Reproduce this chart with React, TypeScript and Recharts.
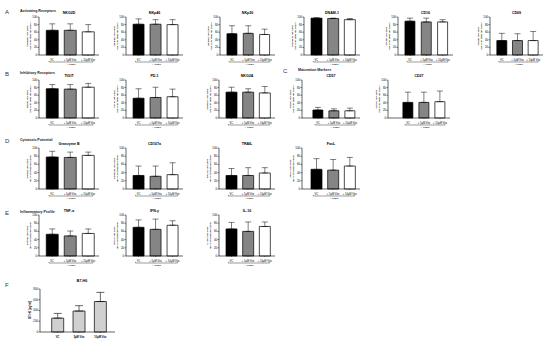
import { BarChart, Bar, XAxis, YAxis, ErrorBar, Cell } from 'recharts';

// treatment groups (x categories)
const GROUPS = ['VC', '+ 5µM Vito', '+ 10µM Vito'];
const F_GROUPS = ['VC', '5µM Vito', '10µM Vito'];
const PCT_TICKS = [0, 20, 40, 60, 80, 100];
const PG_TICKS = [0, 200, 400, 600, 800];

// A - activating receptors (mean, SD; % of total NK cells)
const NKG2D = [65, 65, 61];
const NKG2D_SD = [17, 17, 19];
const NKP46 = [81, 81, 80];
const NKP46_SD = [14, 12, 13];
const NKP30 = [56, 57, 54];
const NKP30_SD = [21, 20, 14];
const DNAM1 = [97, 96, 93];
const DNAM1_SD = [1, 1, 3];
const CD16 = [89, 87, 87];
const CD16_SD = [8, 10, 6];
const CD69 = [38, 38, 38];
const CD69_SD = [19, 18, 24];

// B - inhibitory receptors
const TIGIT = [77, 76, 81];
const TIGIT_SD = [11, 12, 10];
const PD1 = [52, 54, 56];
const PD1_SD = [25, 27, 20];
const NKG2A = [68, 68, 66];
const NKG2A_SD = [13, 9, 17];

// C - maturation markers
const CD57 = [21, 19, 19];
const CD57_SD = [7, 5, 7];
const CD27 = [41, 41, 43];
const CD27_SD = [27, 27, 28];

// D - cytotoxic potential
const GZMB = [78, 77, 82];
const GZMB_SD = [14, 13, 8];
const CD107A = [33, 31, 35];
const CD107A_SD = [23, 25, 29];
const TRAIL = [33, 33, 39];
const TRAIL_SD = [17, 19, 13];
const FASL = [48, 46, 56];
const FASL_SD = [26, 26, 21];

// E - inflammatory profile
const TNFA = [53, 49, 55];
const TNFA_SD = [13, 12, 11];
const IFNG = [70, 65, 75];
const IFNG_SD = [18, 25, 11];
const IL10 = [66, 60, 72];
const IL10_SD = [16, 23, 11];

// F - soluble B7-H6 (pg/ml)
const B7H6 = [258, 390, 567];
const B7H6_SD = [88, 100, 170];

const FONT = 'Liberation Sans, Arial, Helvetica, sans-serif';
const FILLS = ['#000000', '#858585', '#ffffff'];

type Panel = {
  title: string;
  marker: string;
  mean: number[];
  sd: number[];
  x: number;
  y: number;
  w: number;
  h: number;
  pad?: number;
};

const ROW_A = 17;
const ROW_B = 80;
const ROW_D = 148;
const ROW_E = 215;
const H_AB = 38;
const H_DE = 41;

const PANELS: Panel[] = [
  { title: 'NKG2D', marker: 'NKG2D', mean: NKG2D, sd: NKG2D_SD, x: 39, y: ROW_A, w: 60, h: H_AB },
  { title: 'NKp46', marker: 'NKp46', mean: NKP46, sd: NKP46_SD, x: 126, y: ROW_A, w: 57, h: H_AB },
  { title: 'NKp30', marker: 'NKp30', mean: NKP30, sd: NKP30_SD, x: 220, y: ROW_A, w: 55, h: H_AB },
  { title: 'DNAM-1', marker: 'DNAM-1', mean: DNAM1, sd: DNAM1_SD, x: 304, y: ROW_A, w: 56, h: H_AB },
  { title: 'CD16', marker: 'CD16', mean: CD16, sd: CD16_SD, x: 398, y: ROW_A, w: 55, h: H_AB },
  { title: 'CD69', marker: 'CD69', mean: CD69, sd: CD69_SD, x: 490, y: ROW_A, w: 53, h: H_AB },
  { title: 'TIGIT', marker: 'TIGIT', mean: TIGIT, sd: TIGIT_SD, x: 39, y: ROW_B, w: 60, h: H_AB },
  { title: 'PD-1', marker: 'PD-1', mean: PD1, sd: PD1_SD, x: 126, y: ROW_B, w: 57, h: H_AB },
  { title: 'NKG2A', marker: 'NKG2A', mean: NKG2A, sd: NKG2A_SD, x: 219, y: ROW_B, w: 56, h: H_AB },
  { title: 'CD57', marker: 'CD57', mean: CD57, sd: CD57_SD, x: 302, y: ROW_B, w: 58, h: H_AB, pad: 8 },
  { title: 'CD27', marker: 'CD27', mean: CD27, sd: CD27_SD, x: 388, y: ROW_B, w: 62, h: H_AB, pad: 12 },
  { title: 'Granzyme B', marker: 'GzmB', mean: GZMB, sd: GZMB_SD, x: 39, y: ROW_D, w: 60, h: H_DE },
  { title: 'CD107a', marker: 'CD107a', mean: CD107A, sd: CD107A_SD, x: 126, y: ROW_D, w: 57, h: H_DE },
  { title: 'TRAIL', marker: 'TRAIL', mean: TRAIL, sd: TRAIL_SD, x: 219, y: ROW_D, w: 56, h: H_DE },
  { title: 'FasL', marker: 'FasL', mean: FASL, sd: FASL_SD, x: 302, y: ROW_D, w: 58, h: H_DE, pad: 6 },
  { title: 'TNF-α', marker: 'TNF-α', mean: TNFA, sd: TNFA_SD, x: 39, y: ROW_E, w: 60, h: H_DE },
  { title: 'IFN-γ', marker: 'IFN-γ', mean: IFNG, sd: IFNG_SD, x: 126, y: ROW_E, w: 57, h: H_DE },
  { title: 'IL-10', marker: 'IL-10', mean: IL10, sd: IL10_SD, x: 219, y: ROW_E, w: 56, h: H_DE },
];

const SECTIONS = [
  { letter: 'A', text: 'Activating Receptors', x: 5, y: 12 },
  { letter: 'B', text: 'Inhibitory Receptors', x: 5, y: 74 },
  { letter: 'C', text: 'Maturation Markers', x: 283, y: 71 },
  { letter: 'D', text: 'Cytotoxic Potential', x: 5, y: 141 },
  { letter: 'E', text: 'Inflammatory Profile', x: 5, y: 213 },
  { letter: 'F', text: '', x: 5, y: 285 },
];

const AXIS_W = 10;
const XAXIS_H = 6;
const TOP_M = 2;

function tickStyle() {
  return { fontSize: 2.8, fill: '#000', fontFamily: FONT };
}

// single-line category label (recharts would wrap these tiny labels)
function GroupTick(props: any) {
  const { x, y, payload, bold } = props;
  return (
    <text x={x} y={y + 2.8} textAnchor="middle" fontSize={2.6} fontWeight={bold ? 700 : 400} fill="#000" fontFamily={FONT}>
      {payload.value}
    </text>
  );
}

function MiniChart({ p }: { p: Panel }) {
  const data = GROUPS.map((g, i) => ({ group: g, mean: p.mean[i], err: [0, p.sd[i]] }));
  const pad = p.pad ?? 4;
  const width = AXIS_W + p.w + 2;
  const height = TOP_M + p.h + XAXIS_H + 1;
  return (
    <div style={{ position: 'absolute', left: p.x - AXIS_W, top: p.y - TOP_M }}>
      <BarChart width={width} height={height} data={data} margin={{ top: TOP_M, right: 2, bottom: 1, left: 0 }} barCategoryGap="18%">
        <XAxis
          dataKey="group"
          interval={0}
          height={XAXIS_H}
          padding={{ left: pad, right: 2 }}
          tick={<GroupTick />}
          tickSize={1}
          axisLine={{ stroke: '#000', strokeWidth: 0.6 }}
          tickLine={{ stroke: '#000', strokeWidth: 0.4 }}
        />
        <YAxis
          width={AXIS_W}
          domain={[0, 100]}
          ticks={PCT_TICKS}
          interval={0}
          tick={tickStyle()}
          tickSize={1.5}
          tickMargin={0.5}
          axisLine={{ stroke: '#000', strokeWidth: 0.6 }}
          tickLine={{ stroke: '#000', strokeWidth: 0.5 }}
        />
        <Bar dataKey="mean" isAnimationActive={false} stroke="#000" strokeWidth={0.7}>
          {data.map((_, i) => (
            <Cell key={i} fill={FILLS[i]} />
          ))}
          <ErrorBar dataKey="err" width={3} stroke="#000" strokeWidth={0.5} direction="y" />
        </Bar>
      </BarChart>
    </div>
  );
}

function ChartB7H6() {
  const data = F_GROUPS.map((g, i) => ({ group: g, mean: B7H6[i], err: [0, B7H6_SD[i]] }));
  const x = 40;
  const y = 289;
  const w = 75;
  const h = 43;
  return (
    <div style={{ position: 'absolute', left: x - AXIS_W, top: y - TOP_M }}>
      <BarChart width={AXIS_W + w + 2} height={TOP_M + h + 8} data={data} margin={{ top: TOP_M, right: 2, bottom: 1, left: 0 }} barCategoryGap="22%">
        <XAxis
          dataKey="group"
          interval={0}
          height={7}
          padding={{ left: 7, right: 4 }}
          tick={<GroupTick bold />}
          tickSize={1}
          axisLine={{ stroke: '#000', strokeWidth: 0.6 }}
          tickLine={{ stroke: '#000', strokeWidth: 0.4 }}
        />
        <YAxis
          width={AXIS_W}
          domain={[0, 800]}
          ticks={PG_TICKS}
          interval={0}
          tick={tickStyle()}
          tickSize={1.5}
          tickMargin={0.5}
          axisLine={{ stroke: '#000', strokeWidth: 0.6 }}
          tickLine={{ stroke: '#000', strokeWidth: 0.5 }}
        />
        <Bar dataKey="mean" isAnimationActive={false} fill="#d0d0d0" stroke="#000" strokeWidth={0.7}>
          <ErrorBar dataKey="err" width={4} stroke="#000" strokeWidth={0.6} direction="y" />
        </Bar>
      </BarChart>
    </div>
  );
}

function Decorations() {
  return (
    <svg width={550} height={342} style={{ position: 'absolute', left: 0, top: 0, pointerEvents: 'none' }} fontFamily={FONT}>
      {SECTIONS.map((s) => (
        <g key={s.letter}>
          <text x={s.x} y={s.y + 2} fontSize={6} fill="#333">{s.letter}</text>
          <text x={s.x + 15} y={s.y} fontSize={3.6} fontWeight={700} fill="#222">{s.text}</text>
        </g>
      ))}
      {PANELS.map((p) => {
        const pad = p.pad ?? 4;
        const band = (p.w - pad - 2) / 3;
        const c1 = p.x + pad + band * 0.5;
        const c3 = p.x + pad + band * 2.5;
        const by = p.y + p.h + 7;
        const cy = p.y + p.h / 2;
        return (
          <g key={p.title}>
            <text x={p.x + p.w / 2} y={p.y - 3} fontSize={3.6} fontWeight={700} textAnchor="middle">{p.title}</text>
            <text transform={`translate(${p.x - 11.5},${cy}) rotate(-90)`} fontSize={2.5} fontWeight={700} textAnchor="middle">
              {p.marker}+ NK cells
            </text>
            <text transform={`translate(${p.x - 8.5},${cy}) rotate(-90)`} fontSize={2.5} fontWeight={700} textAnchor="middle">
              (as % of total NK cells)
            </text>
            <path d={`M${c1 - 3},${by - 1} V${by} H${c3 + 5} V${by - 1}`} stroke="#000" strokeWidth={0.4} fill="none" />
            <text x={(c1 + c3) / 2 + 1} y={by + 3.2} fontSize={2.5} textAnchor="middle">+ TNBC</text>
          </g>
        );
      })}
      <text x={82} y={282} fontSize={3.6} fontWeight={700} textAnchor="middle">B7-H6</text>
      <text transform={`translate(${31},${310}) rotate(-90)`} fontSize={2.8} fontWeight={700} textAnchor="middle">B7-H6 (pg/ml)</text>
    </svg>
  );
}

export default function App() {
  return (
    <div style={{ position: 'absolute', left: 0, top: 0, width: 550, height: 342, background: '#fff', fontFamily: FONT }}>
      {PANELS.map((p) => (
        <MiniChart key={p.title} p={p} />
      ))}
      <ChartB7H6 />
      <Decorations />
    </div>
  );
}
